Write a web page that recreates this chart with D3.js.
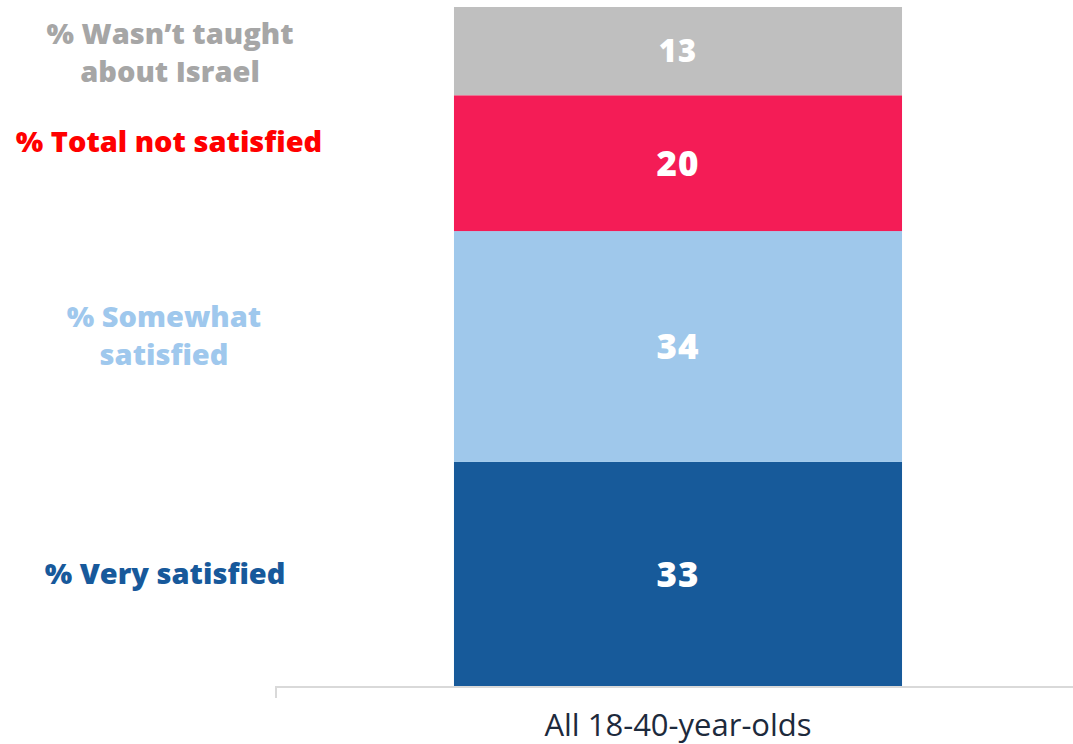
<!DOCTYPE html>
<meta charset="utf-8">
<script src="https://d3js.org/d3.v7.min.js"></script>
<style>
  body { margin: 0; background: #fff; font-family: 'Open Sans', sans-serif; }
</style>
<div id="chart"></div>
<script>
var category = "All 18-40-year-olds";
var keys = ["very", "somewhat", "notSatisfied", "notTaught"];
var values = [33, 34, 20, 13];
var labels = [["% Very satisfied"], ["% Somewhat", "satisfied"], ["% Total not satisfied"], ["% Wasn\u2019t taught", "about Israel"]];
var fills = ["#175a9a", "#9fc8eb", "#f41c56", "#bfbfbf"];
var labelColors = ["#17599b", "#9fc8ed", "#ff0000", "#a6a6a6"];

var W = 1073, H = 744;
var svg = d3.select("#chart").append("svg").attr("width", W).attr("height", H);

var x = d3.scaleBand().domain([category]).range([276, 1080]).padding(0.2843);
var y = d3.scaleLinear().domain([0, 100]).range([686, 7]);

var stacked = [];
var acc = 0;
values.forEach(function(v, i) {
  stacked.push({ key: keys[i], v: v, y0: acc, y1: acc + v, i: i });
  acc += v;
});

svg.append("g").selectAll("rect")
  .data(stacked)
  .enter().append("rect")
    .attr("x", x(category))
    .attr("width", x.bandwidth())
    .attr("y", function(d) { return y(d.y1); })
    .attr("height", function(d) { return y(d.y0) - y(d.y1); })
    .attr("fill", function(d) { return fills[d.i]; });

svg.append("g").selectAll("text")
  .data(stacked)
  .enter().append("text")
    .attr("x", x(category) + x.bandwidth() / 2)
    .attr("y", function(d) { return y((d.y0 + d.y1) / 2); })
    .attr("dy", "0.36em")
    .attr("text-anchor", "middle")
    .attr("fill", "#fff")
    .style("font-weight", 800)
    .style("letter-spacing", "1px")
    .style("font-size", function(d) { return d.key === "notTaught" ? "31px" : "35px"; })
    .text(function(d) { return d.v; });

// left legend labels, centred on their segment
var labelX = [165, 164, 169, 170];
var lineH = 38;
var lg = svg.append("g").selectAll("text")
  .data(stacked)
  .enter().append("text")
    .attr("text-anchor", "middle")
    .attr("fill", function(d) { return labelColors[d.i]; })
    .style("font-weight", 800)
    .style("font-size", "29px")
    .attr("transform", function(d) {
      var n = labels[d.i].length;
      var cy = y((d.y0 + d.y1) / 2);
      if (d.key === "notSatisfied") cy -= 22;
      if (d.key === "notTaught") cy += 1;
      if (d.key === "somewhat") cy -= 11;
      return "translate(" + labelX[d.i] + "," + (cy - (n - 1) * lineH / 2) + ")";
    });
lg.selectAll("tspan")
  .data(function(d) { return labels[d.i]; })
  .enter().append("tspan")
    .attr("x", 0)
    .attr("y", function(d, j) { return j * lineH; })
    .attr("dy", "0.36em")
    .text(function(d) { return d; });

// axis baseline
svg.append("path")
  .attr("d", "M276,698V687H1073")
  .attr("fill", "none")
  .attr("stroke", "#d9d9d9")
  .attr("stroke-width", 2);

svg.append("text")
  .attr("x", x(category) + x.bandwidth() / 2)
  .attr("y", 736)
  .attr("text-anchor", "middle")
  .attr("fill", "#1d2a3c")
  .style("font-size", "31px")
  .text(category);
</script>
